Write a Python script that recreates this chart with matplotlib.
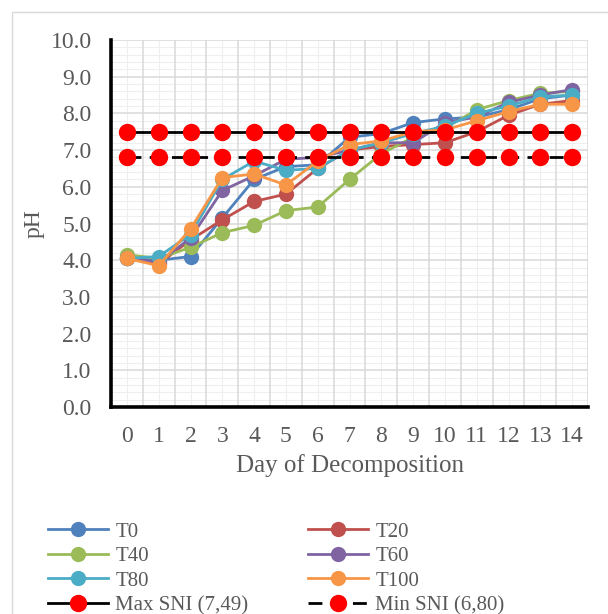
import matplotlib
matplotlib.use('Agg')
import matplotlib.pyplot as plt
from matplotlib.lines import Line2D
from matplotlib.patches import Rectangle
import numpy as np

plt.rcParams['font.family'] = ['Liberation Serif', 'DejaVu Serif']

days = list(range(15))
day_labels = [str(d) for d in days]
y_ticks = [0, 1, 2, 3, 4, 5, 6, 7, 8, 9, 10]

series_names = ['T0', 'T20', 'T40', 'T60', 'T80', 'T100']
t0 = [4.05, 4.0, 4.1, 5.15, 6.2, 6.55, 6.6, 7.35, 7.45, 7.75, 7.85, 7.9, 8.1, 8.4, 8.5]
t20 = [4.05, 3.9, 4.55, 5.1, 5.6, 5.8, 6.5, 7.0, 7.1, 7.15, 7.2, 7.5, 7.95, 8.25, 8.35]
t40 = [4.15, 4.05, 4.35, 4.75, 4.95, 5.35, 5.45, 6.2, 6.9, 7.35, 7.6, 8.1, 8.35, 8.55, 8.6]
t60 = [4.05, 3.95, 4.6, 5.9, 6.3, 6.75, 6.8, 7.0, 7.2, 7.2, 7.75, 7.9, 8.3, 8.5, 8.65]
t80 = [4.05, 4.1, 4.7, 6.2, 6.7, 6.45, 6.5, 7.0, 7.2, 7.45, 7.65, 8.0, 8.2, 8.45, 8.5]
t100 = [4.05, 3.85, 4.85, 6.25, 6.35, 6.05, 6.7, 7.15, 7.25, 7.5, 7.55, 7.8, 8.05, 8.25, 8.25]
max_sni = 7.49
min_sni = 6.80

colors = ['#4F81BD', '#C0504D', '#9BBB59', '#8064A2', '#4BACC6', '#F79646']

W, H = 608, 614
fig = plt.figure(figsize=(W / 100, H / 100), dpi=100)
fig.patch.set_facecolor('white')
fig.patches.append(Rectangle((12 / W, -0.1), 1.2, 0.1 + (H - 12) / H,
                             transform=fig.transFigure, fill=False,
                             edgecolor='#D9D9D9', linewidth=1.0))

ax = fig.add_axes([111 / W, (H - 407) / H, (588 - 111) / W, (407 - 40) / H])
ax.set_xlim(-0.5, 14.5)
ax.set_ylim(0, 10)

# grid
for v in np.arange(0, 10.001, 0.2):
    if abs(v - round(v)) < 1e-6:
        ax.axhline(v, color='#D9D9D9', lw=1.1, zorder=0.5)
    else:
        ax.axhline(v, color='#EFEFEF', lw=0.8, zorder=0.3)
for d in days:
    ax.axvline(d, color='#EFEFEF', lw=0.8, zorder=0.3)
for b in np.arange(-0.5, 14.6, 1):
    ax.axvline(b, color='#D9D9D9', lw=1.1, zorder=0.5)

handles = []
for name, vals, c in zip(series_names, [t0, t20, t40, t60, t80, t100], colors):
    h, = ax.plot(days, vals, color=c, lw=2.0, marker='o', ms=11,
                 markeredgewidth=0, label=name, zorder=3)
    handles.append(h)

hmax, = ax.plot(days, [max_sni] * len(days), color='black', lw=2.0,
                marker='o', ms=11.5, mfc='#FF0000', mec='#FF0000',
                label='Max SNI (7,49)', zorder=4)
hmin, = ax.plot(days, [min_sni] * len(days), color='black', lw=2.0,
                ls=(0, (5, 3)), marker='o', ms=11.5, mfc='#FF0000', mec='#FF0000',
                label='Min SNI (6,80)', zorder=4)

for s in ['top', 'right']:
    ax.spines[s].set_visible(False)
for s in ['left', 'bottom']:
    ax.spines[s].set_linewidth(2.6)
    ax.spines[s].set_color('black')
    ax.spines[s].set_zorder(5)

ax.set_xticks(days)
ax.set_xticklabels(day_labels)
ax.set_yticks(y_ticks)
ax.set_yticklabels([f'{v:.1f}' for v in y_ticks])
ax.tick_params(length=0, labelsize=17, colors='#595959')
ax.tick_params(axis='x', pad=14)
ax.tick_params(axis='y', pad=14)
ax.set_xlabel('Day of Decomposition', fontsize=18, color='#595959', labelpad=5)
ax.set_ylabel('pH', fontsize=17, color='#595959', labelpad=4)

leg_kw = dict(frameon=False, fontsize=15, handlelength=2.9, handletextpad=0.33,
              labelspacing=0.24, borderpad=0, borderaxespad=0, loc='upper left',
              labelcolor='#595959')
col1 = [handles[0], handles[2], handles[4], hmax]
col2 = [handles[1], handles[3], handles[5], hmin]
fig.legend(col1, [h.get_label() for h in col1],
           bbox_to_anchor=(48 / W, 1 - 522 / H), **leg_kw)
fig.legend(col2, [h.get_label() for h in col2],
           bbox_to_anchor=(308 / W, 1 - 522 / H), **leg_kw)

fig.savefig('out.png', dpi=100, facecolor='white')
